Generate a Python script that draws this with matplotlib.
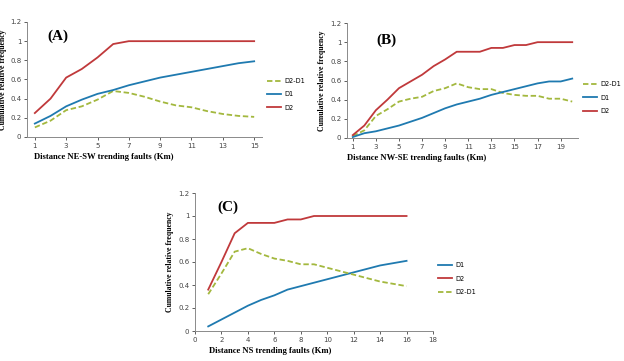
import numpy as np
import matplotlib
matplotlib.use('Agg')
import matplotlib.pyplot as plt

# --- data ---
x_a = list(range(1, 16))
d2_a = [0.25, 0.40, 0.62, 0.71, 0.83, 0.97, 1.0, 1.0, 1.0, 1.0, 1.0, 1.0, 1.0, 1.0, 1.0]
d1_a = [0.14, 0.22, 0.32, 0.39, 0.45, 0.49, 0.54, 0.58, 0.62, 0.65, 0.68, 0.71, 0.74, 0.77, 0.79]
diff_a = [0.10, 0.17, 0.28, 0.32, 0.39, 0.48, 0.46, 0.42, 0.37, 0.33, 0.31, 0.27, 0.24, 0.22, 0.21]

x_b = list(range(1, 21))
d2_b = [0.03, 0.13, 0.29, 0.40, 0.52, 0.59, 0.66, 0.75, 0.82, 0.90,
        0.90, 0.90, 0.94, 0.94, 0.97, 0.97, 1.0, 1.0, 1.0, 1.0]
d1_b = [0.01, 0.05, 0.07, 0.10, 0.13, 0.17, 0.21, 0.26, 0.31, 0.35,
        0.38, 0.41, 0.45, 0.48, 0.51, 0.54, 0.57, 0.59, 0.59, 0.62]
diff_b = [0.02, 0.08, 0.23, 0.30, 0.38, 0.41, 0.43, 0.49, 0.52, 0.57,
          0.53, 0.51, 0.51, 0.47, 0.45, 0.44, 0.44, 0.41, 0.41, 0.38]

x_c = list(range(1, 17))
d1_c = [0.04, 0.10, 0.16, 0.22, 0.27, 0.31, 0.36, 0.39, 0.42, 0.45, 0.48, 0.51, 0.54, 0.57, 0.59, 0.61]
d2_c = [0.36, 0.60, 0.85, 0.94, 0.94, 0.94, 0.97, 0.97, 1.0, 1.0, 1.0, 1.0, 1.0, 1.0, 1.0, 1.0]
diff_c = [0.32, 0.50, 0.69, 0.72, 0.67, 0.63, 0.61, 0.58, 0.58, 0.55, 0.52, 0.49, 0.46, 0.43, 0.41, 0.39]

y_ticks = [0, 0.2, 0.4, 0.6, 0.8, 1.0, 1.2]
y_labels = ['0', '0.2', '0.4', '0.6', '0.8', '1', '1.2']

RED = '#C0393B'
BLUE = '#1F7AB0'
GREEN = '#A3B83E'

W, H = 624, 361
fig = plt.figure(figsize=(W / 100, H / 100), dpi=100)


def px_axes(left, top, right, bottom):
    return fig.add_axes([left / W, 1 - bottom / H, (right - left) / W, (bottom - top) / H])


def style(ax, xlabel, tag, tag_xy, ylab_x, xlab_x):
    for s in ['top', 'right']:
        ax.spines[s].set_visible(False)
    for s in ['left', 'bottom']:
        ax.spines[s].set_color('#8a8a8a')
        ax.spines[s].set_linewidth(0.7)
    ax.set_ylim(0, 1.2)
    ax.set_yticks(y_ticks)
    ax.set_yticklabels(y_labels)
    ax.tick_params(labelsize=5, colors='#444444', length=2, width=0.6, pad=2)
    ax.set_ylabel('Cumulative relative frequency', family='Liberation Serif',
                  fontweight='bold', fontsize=5.6)
    ax.yaxis.set_label_coords(ylab_x, 0.5)
    ax.set_xlabel(xlabel, family='Liberation Serif', fontweight='bold',
                  fontsize=6.2, loc='left')
    ax.xaxis.set_label_coords(xlab_x, -0.14)
    ax.text(tag_xy[0], tag_xy[1], tag, transform=ax.transAxes, family='Liberation Serif',
            fontweight='bold', fontsize=11, ha='center', va='center')


def draw_legend(ax, order, y_frac):
    handles = {h.get_label(): h for h in ax.get_lines()}
    ax.legend([handles[k] for k in order], order, loc='center left',
              bbox_to_anchor=(1.0, y_frac), frameon=False, fontsize=4.8,
              handlelength=2.2, labelspacing=1.1, handletextpad=0.4, borderaxespad=0.3)


# (A)
ax = px_axes(27, 22, 262, 137)
ax.plot(x_a, diff_a, color=GREEN, lw=1.3, ls=(0, (3, 1.5)), label='D2-D1')
ax.plot(x_a, d1_a, color=BLUE, lw=1.3, label='D1')
ax.plot(x_a, d2_a, color=RED, lw=1.3, label='D2')
ax.set_xlim(0.5, 15.5)
ax.set_xticks(range(1, 16, 2))
style(ax, 'Distance NE-SW trending faults (Km)', '(A)', (0.13, 0.88), -0.085, 0.03)
draw_legend(ax, ['D2-D1', 'D1', 'D2'], 0.37)

# (B)
ax = px_axes(347, 23, 578, 138)
ax.plot(x_b, diff_b, color=GREEN, lw=1.3, ls=(0, (3, 1.5)), label='D2-D1')
ax.plot(x_b, d1_b, color=BLUE, lw=1.3, label='D1')
ax.plot(x_b, d2_b, color=RED, lw=1.3, label='D2')
ax.set_xlim(0.5, 20.5)
ax.set_xticks(range(1, 21, 2))
style(ax, 'Distance NW-SE trending faults (Km)', '(B)', (0.17, 0.85), -0.09, 0.0)
draw_legend(ax, ['D2-D1', 'D1', 'D2'], 0.35)

# (C)
ax = px_axes(195, 193, 433, 331)
ax.plot(x_c, d1_c, color=BLUE, lw=1.3, label='D1')
ax.plot(x_c, d2_c, color=RED, lw=1.3, label='D2')
ax.plot(x_c, diff_c, color=GREEN, lw=1.3, ls=(0, (3, 1.5)), label='D2-D1')
ax.set_xlim(0, 18)
ax.set_xticks(range(0, 19, 2))
style(ax, 'Distance NS trending faults (Km)', '(C)', (0.14, 0.9), -0.09, 0.06)
ax.xaxis.set_label_coords(0.06, -0.115)
draw_legend(ax, ['D1', 'D2', 'D2-D1'], 0.38)

fig.savefig('out.png', dpi=100)
